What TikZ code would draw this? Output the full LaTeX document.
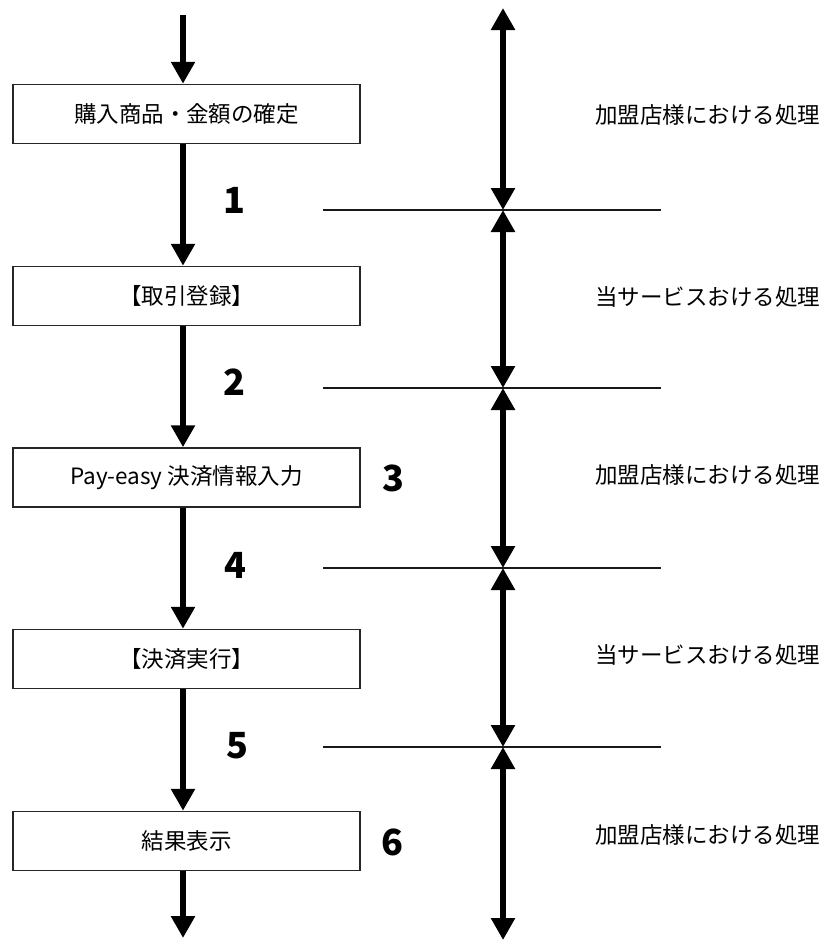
\documentclass[tikz,border=0pt]{standalone}
\usepackage{fontspec}
\setmainfont{Noto Sans CJK JP}
\newfontfamily\numfont{Noto Sans CJK JP}[BoldFont={* Bold}]
\usetikzlibrary{arrows.meta}
\begin{document}
\begin{tikzpicture}[x=1pt,y=-1pt,
  box/.style={draw=black!85,line width=1.5pt,fill=white,minimum width=347pt,minimum height=59pt,inner sep=0pt,font=\fontsize{22.5}{26}\selectfont},
  flow/.style={line width=6pt,-{Triangle[width=23pt,length=22pt]}},
  dflow/.style={line width=6pt,{Triangle[width=23pt,length=22pt]}-{Triangle[width=23pt,length=22pt]}},
  sep/.style={line width=1.5pt,draw=black!90},
  num/.style={font=\fontsize{36}{40}\selectfont\bfseries,inner sep=0pt},
  side/.style={anchor=west,inner sep=0pt,font=\fontsize{22.5}{26}\selectfont}]
\useasboundingbox (0,0) rectangle (834,948);
\node[box] (b1) at (186.5,114) {購入商品・金額の確定};
\node[box] (b2) at (186.5,296) {【取引登録】};
\node[box] (b3) at (186.5,477.5) {Pay-easy 決済情報入力};
\node[box] (b4) at (186.5,659) {【決済実行】};
\node[box] (b5) at (186.5,841) {結果表示};
\coordinate (top) at (183,15);
\coordinate (bot) at (183,938);
\draw[flow] (top) -- ([xshift=-3.5pt]b1.north);
\draw[flow] ([xshift=-3.5pt]b1.south) -- ([xshift=-3.5pt]b2.north);
\draw[flow] ([xshift=-3.5pt]b2.south) -- ([xshift=-3.5pt]b3.north);
\draw[flow] ([xshift=-3.5pt]b3.south) -- ([xshift=-3.5pt]b4.north);
\draw[flow] ([xshift=-3.5pt]b4.south) -- ([xshift=-3.5pt]b5.north);
\draw[flow] ([xshift=-3.5pt]b5.south) -- (bot);
\node[num] (n1) at (234,200) {1};
\node[num] (n2) at (234,382) {2};
\node[num] (n3) at (393,478) {3};
\node[num] (n4) at (235,565) {4};
\node[num] (n5) at (237,746) {5};
\node[num] (n6) at (392,842) {6};
\coordinate (r0) at (503,8);
\coordinate (r1) at (503,210);
\coordinate (r2) at (503,388);
\coordinate (r3) at (503,568);
\coordinate (r4) at (503,747);
\coordinate (r5) at (503,940);
\foreach \y/\n in {210/1,388/2,568/3,747/4}{
  \coordinate (la\n) at (323,\y);
  \coordinate (lb\n) at (661,\y);
  \draw[sep] (la\n) -- (lb\n);
}
\draw[dflow] (r0) -- (r1);
\draw[dflow] (r1) -- (r2);
\draw[dflow] (r2) -- (r3);
\draw[dflow] (r3) -- (r4);
\draw[dflow] (r4) -- (r5);
\node[side] (s1) at (595,115) {加盟店様における処理};
\node[side] (s2) at (595,297) {当サービスおける処理};
\node[side] (s3) at (595,475) {加盟店様における処理};
\node[side] (s4) at (595,655) {当サービスおける処理};
\node[side] (s5) at (595,835) {加盟店様における処理};
\end{tikzpicture}
\end{document}
